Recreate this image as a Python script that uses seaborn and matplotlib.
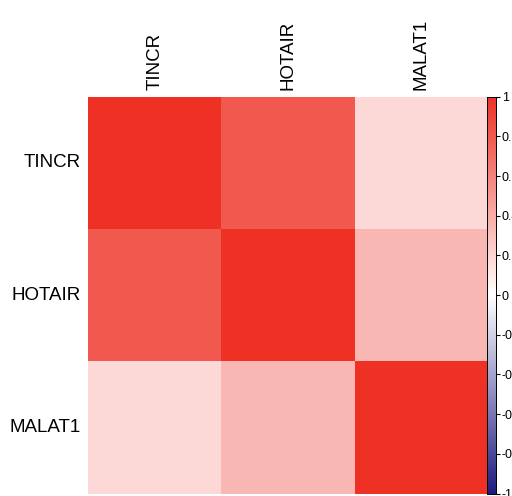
import numpy as np
import pandas as pd
import matplotlib
matplotlib.use('Agg')
import matplotlib.pyplot as plt
import seaborn as sns
from matplotlib.colors import LinearSegmentedColormap

# Genes and their pairwise correlations
genes = ['TINCR', 'HOTAIR', 'MALAT1']
corr_tincr = [1.0, 0.80, 0.18]
corr_hotair = [0.80, 1.0, 0.35]
corr_malat1 = [0.18, 0.35, 1.0]

cbar_ticks = [-1, -0.8, -0.6, -0.4, -0.2, 0, 0.2, 0.4, 0.6, 0.8, 1]

corr = pd.DataFrame([corr_tincr, corr_hotair, corr_malat1], index=genes, columns=genes)

cmap = LinearSegmentedColormap.from_list('bwr_custom', ['#1c1c80', '#ffffff', '#ee3124'])

fig = plt.figure(figsize=(5.12, 4.96), dpi=100)
ax = fig.add_axes([0.172, 0.005, 0.781, 0.80])
cax = fig.add_axes([0.951, 0.005, 0.018, 0.80])

sns.heatmap(corr, vmin=-1, vmax=1, cmap=cmap, ax=ax, cbar_ax=cax,
            cbar_kws={'ticks': cbar_ticks})

ax.xaxis.tick_top()
ax.set_xticklabels(genes, rotation=90, fontsize=13.5, family='Liberation Sans')
ax.set_yticklabels(genes, rotation=0, fontsize=13.5, family='Liberation Sans')
ax.tick_params(length=0, pad=5)
ax.set_xlabel('')
ax.set_ylabel('')

cax.tick_params(labelsize=9, length=3, pad=1)
cax.set_yticklabels([f'{t:g}' for t in cbar_ticks], family='Liberation Sans')
for s in cax.spines.values():
    s.set_visible(True)
    s.set_linewidth(0.6)

plt.savefig('out.png', dpi=100)
